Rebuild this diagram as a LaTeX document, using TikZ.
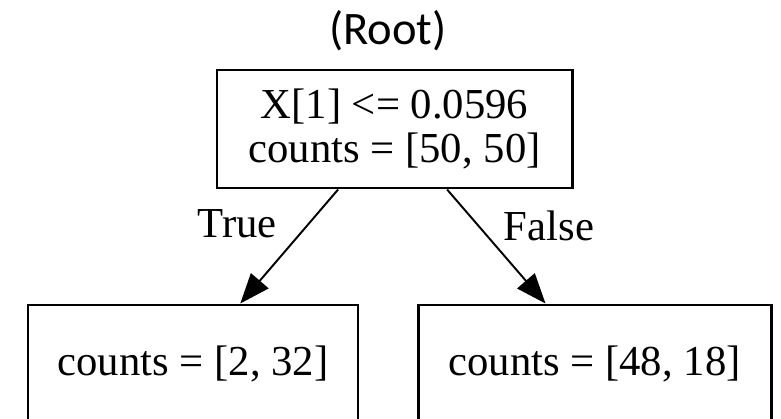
\documentclass[tikz,border=0pt]{standalone}
\usepackage{fontspec}
\setmainfont{Liberation Serif}
\newfontfamily\capfont{Carlito}
\usetikzlibrary{arrows.meta}

\tikzset{
  leafbox/.style={draw,line width=1.7pt,minimum height=2.36cm,inner sep=0pt,align=center},
  edgelbl/.style={inner sep=0pt},
}

\begin{document}
\begin{tikzpicture}[>={Triangle[length=0.6cm,width=0.46cm]},line width=1.1pt,font=\fontsize{24.3}{25}\selectfont]
  \useasboundingbox (0,0) rectangle (15.62,8.36);
  \fill[white] (0,0) rectangle (15.62,8.36);

  \begin{scope}
  \clip (0,0) rectangle (15.62,8.36);

  % title above the root
  \node[inner sep=0pt,font=\capfont\fontsize{26.5}{30}\selectfont] (title) at (7.76,7.74) {(Root)};

  % split and leaves
  \node[leafbox,minimum width=7.1cm] (root) at (7.89,5.78) {X[1] <= 0.0596\\counts = [50, 50]};
  \node[leafbox,minimum width=6.6cm] (lft) at (3.86,1.08) {counts = [2, 32]};
  \node[leafbox,minimum width=7.06cm] (rgt) at (11.89,1.08) {counts = [48, 18]};

  % edges
  \draw[->] (root.-133) -- (lft.52);
  \draw[->] (root.-49) -- (rgt.129);

  % edge labels
  \node[edgelbl] (yes) at (4.74,3.88) {True};
  \node[edgelbl] (no) at (10.98,3.85) {False};
  \end{scope}
\end{tikzpicture}
\end{document}
